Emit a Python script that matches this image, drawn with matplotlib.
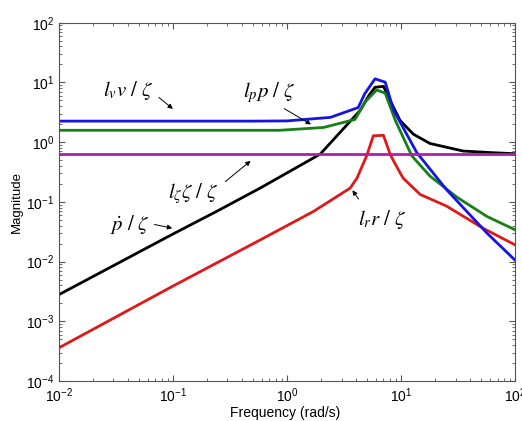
import matplotlib
matplotlib.use("Agg")
import matplotlib.pyplot as plt
from matplotlib.ticker import LogLocator, NullFormatter

plt.rcParams['font.family'] = ['Liberation Sans', 'DejaVu Sans']
plt.rcParams['mathtext.fontset'] = 'stix'

# l_v v / zeta (blue)
freq_v = [0.01, 0.5, 1.0, 2.4, 4.2, 4.8, 5.9, 7.25, 8.6, 13.7, 25, 56.5, 100]
mag_v = [2.25, 2.25, 2.27, 2.6, 3.8, 6.5, 11.5, 10.1, 3.4, 0.67, 0.16, 0.030, 0.0105]

# l_p p / zeta (green)
freq_p = [0.01, 0.86, 2.08, 3.94, 4.83, 6.1, 7.25, 8.9, 12.4, 17.9, 30.8, 56.5, 100]
mag_p = [1.58, 1.58, 1.76, 2.4, 4.7, 7.5, 6.6, 2.3, 0.59, 0.27, 0.12, 0.057, 0.034]

# p dot / zeta (black)
freq_pd = [0.01, 0.1, 0.24, 0.58, 1.95, 4.37, 5.2, 5.9, 7.0, 8.0, 9.8, 12.8, 17.9, 35, 60, 100]
mag_pd = [0.0028, 0.029, 0.069, 0.17, 0.63, 3.4, 6.0, 8.3, 8.6, 5.0, 2.3, 1.36, 0.95, 0.71, 0.67, 0.64]

# l_r r / zeta (red)
freq_r = [0.01, 0.1, 0.58, 1.7, 3.57, 4.1, 5.0, 5.7, 7.0, 8.0, 8.6, 10.4, 14.7, 25, 52.5, 100]
mag_r = [0.00036, 0.0039, 0.023, 0.069, 0.17, 0.25, 0.6, 1.28, 1.3, 0.63, 0.48, 0.25, 0.133, 0.085, 0.036, 0.019]

# l_zeta zeta / zeta (magenta)
freq_z = [0.01, 100]
mag_z = [0.635, 0.635]

fig = plt.figure(figsize=(5.22, 4.21), dpi=100)
ax = fig.add_axes([0.113, 0.095, 0.874, 0.851])

lw = 2.0
ax.plot(freq_pd, mag_pd, color='black', lw=lw)
ax.plot(freq_r, mag_r, color='#e01818', lw=lw)
ax.plot(freq_p, mag_p, color='#168016', lw=lw)
ax.plot(freq_v, mag_v, color='#1414e6', lw=lw)
ax.plot(freq_z, mag_z, color='#b01cb0', lw=lw)

ax.set_xscale('log')
ax.set_yscale('log')
ax.set_xlim(1e-2, 1e2)
ax.set_ylim(1e-4, 1e2)
ax.xaxis.set_major_locator(LogLocator(base=10, numticks=10))
ax.yaxis.set_major_locator(LogLocator(base=10, numticks=10))
ax.xaxis.set_minor_locator(LogLocator(base=10, subs=range(2, 10), numticks=20))
ax.yaxis.set_minor_locator(LogLocator(base=10, subs=range(2, 10), numticks=20))
ax.xaxis.set_minor_formatter(NullFormatter())
ax.yaxis.set_minor_formatter(NullFormatter())
ax.tick_params(which='both', direction='in', top=True, right=True, labelsize=10, color='#555555')
ax.tick_params(which='major', length=4)
ax.tick_params(which='minor', length=2)
ax.tick_params(axis='x', which='major', pad=4)
for s in ax.spines.values():
    s.set_color('#555555')
    s.set_linewidth(0.8)

# x label placed by hand so it stays inside the small canvas
fig.text(0.546, 0.019, 'Frequency (rad/s)', fontsize=10, ha='center', va='center')
ax.set_ylabel('Magnitude', fontsize=9.5, labelpad=2)

fs = 15
ax.text(0.0243, 7.3, r'$l_v v\ /\ \zeta$', fontsize=fs, va='center')
ax.text(0.41, 6.8, r'$l_p p\ /\ \zeta$', fontsize=fs, va='center')
ax.text(0.090, 0.14, r'$l_\zeta \zeta\ /\ \zeta$', fontsize=fs, va='center')
ax.text(0.028, 0.042, r'$\dot{p}\ /\ \zeta$', fontsize=fs, va='center')
ax.text(4.2, 0.051, r'$l_r r\ /\ \zeta$', fontsize=fs, va='center')

arr = dict(arrowstyle='-|>', color='black', lw=0.7, mutation_scale=7)
ax.annotate('', xy=(0.104, 3.37), xytext=(0.072, 6.0), arrowprops=arr)
ax.annotate('', xy=(1.70, 1.88), xytext=(0.90, 3.84), arrowprops=arr)
ax.annotate('', xy=(0.50, 0.52), xytext=(0.275, 0.204), arrowprops=arr)
ax.annotate('', xy=(0.104, 0.0355), xytext=(0.065, 0.0427), arrowprops=arr)
ax.annotate('', xy=(3.62, 0.171), xytext=(4.37, 0.102), arrowprops=arr)

fig.savefig('out.png', dpi=100)
